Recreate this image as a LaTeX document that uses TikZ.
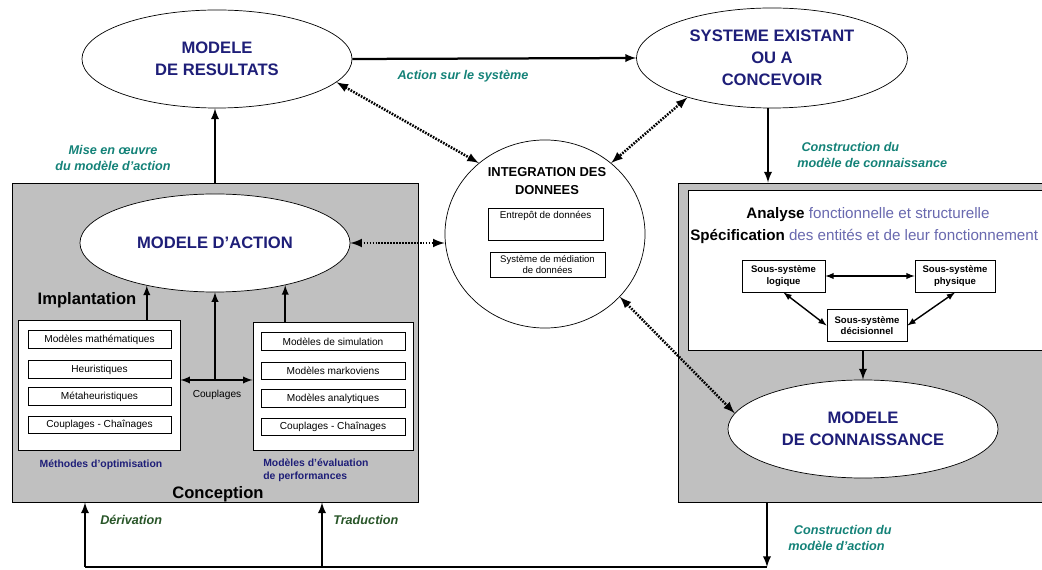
\documentclass[tikz,border=0pt]{standalone}
\usepackage{fontspec}
\setmainfont{Liberation Sans}
\usetikzlibrary{shapes,arrows}
\definecolor{navy}{RGB}{30,30,120}
\definecolor{tealtxt}{RGB}{20,130,120}
\definecolor{greentxt}{RGB}{40,85,40}
\definecolor{lavtxt}{RGB}{105,105,175}
\definecolor{boxgray}{RGB}{192,192,192}

\begin{document}
\begin{tikzpicture}[x=0.025cm, y=-0.025cm,
	model/.style={ellipse, draw=black, fill=white, line width=0.5pt, minimum width=6.75cm, minimum height=2.45cm, inner sep=0pt, align=center, text=navy, font=\fontsize{11.8}{15.8}\selectfont\bfseries},
	graybox/.style={rectangle, draw=black, fill=boxgray, line width=0.6pt, inner sep=0pt},
	whitebox/.style={rectangle, draw=black, fill=white, line width=0.6pt, inner sep=0pt},
	itembox/.style={rectangle, draw=black, fill=white, line width=0.6pt, inner sep=0pt, minimum height=0.43cm, font=\fontsize{7.2}{8}\selectfont},
	subbox/.style={rectangle, draw=black, fill=white, line width=0.6pt, inner sep=0pt, minimum height=0.8cm, align=center, font=\fontsize{6.8}{8}\selectfont\bfseries},
	flow/.style={-latex, line width=1.6pt},
	link/.style={latex-latex, line width=1pt},
	dataflow/.style={latex-latex, line width=1.8pt, dash pattern=on 1.2pt off 0.9pt},
	flowlabel/.style={font=\fontsize{9}{11.4}\selectfont\bfseries\itshape, text=tealtxt, inner sep=0pt},
	navylabel/.style={font=\fontsize{7.4}{9.2}\selectfont\bfseries, text=navy, inner sep=0pt},
	]
	\useasboundingbox (0,0) rectangle (1042,570);

	%gray boxes
	\node[graybox, minimum width=10.15cm, minimum height=7.975cm] (conc) at (215,342.5) {};
	\node[graybox, minimum width=9.2cm, minimum height=7.975cm] (connbox) at (862,342.5) {};
	\node[whitebox, minimum width=8.95cm, minimum height=4cm] (spec) at (867,270) {};

	%ellipses
	\node[model] (res) at (217,59) {MODELE\\DE RESULTATS};
	\node[model, minimum width=6.775cm, minimum height=2.5cm] (sys) at (772,58) {SYSTEME EXISTANT\\OU A\\CONCEVOIR};
	\node[model] (act) at (215,243) {MODELE D'ACTION};
	\node[model] (con) at (863,429) {MODELE\\DE CONNAISSANCE};

	%data integration
	\node[ellipse, draw=black, fill=white, line width=0.5pt, minimum width=5cm, minimum height=4.7cm, inner sep=0pt] (integ) at (545,234) {};
	\node[font=\fontsize{9.2}{12.8}\selectfont\bfseries, align=center] (integtitle) at (547,181) {INTEGRATION DES\\DONNEES};
	\node[whitebox, minimum width=2.875cm, minimum height=0.8cm] (entrepot) at (545.5,224) {};
	\node[font=\fontsize{7}{8}\selectfont, inner sep=0pt] (entrepottxt) at (545.5,216) {Entrepôt de données};
	\node[whitebox, minimum width=2.875cm, minimum height=0.625cm, align=center, font=\fontsize{6.8}{7.6}\selectfont] (mediation) at (547.5,264.5) {Système de médiation\\de données};

	%left white box
	\node[whitebox, minimum width=4.05cm, minimum height=3.25cm] (optim) at (99,385) {};
	\node[itembox, minimum width=3.575cm] (maths) at (99.5,339.5) {Modèles mathématiques};
	\node[itembox, minimum width=3.575cm] (heur) at (99.5,369.5) {Heuristiques};
	\node[itembox, minimum width=3.575cm] (meta) at (99.5,396.5) {Métaheuristiques};
	\node[itembox, minimum width=3.575cm] (coupl) at (99.5,425) {Couplages - Chaînages};

	%right white box
	\node[whitebox, minimum width=4cm, minimum height=3.2cm] (perf) at (333,386) {};
	\node[itembox, minimum width=3.6cm] (simu) at (333,341.5) {Modèles de simulation};
	\node[itembox, minimum width=3.6cm] (marko) at (333,371) {Modèles markoviens};
	\node[itembox, minimum width=3.6cm] (analy) at (333,398.5) {Modèles analytiques};
	\node[itembox, minimum width=3.6cm] (chain) at (333,427) {Couplages - Chaînages};

	%sub-systems
	\node[subbox, minimum width=2.075cm] (logique) at (783.5,276) {Sous-système\\logique};
	\node[subbox, minimum width=2cm] (physique) at (955,276) {Sous-système\\physique};
	\node[subbox, minimum width=2cm, minimum height=0.78cm] (decision) at (867,325.5) {Sous-système\\décisionnel};

	%texts
	\node[anchor=base, font=\fontsize{10.8}{12}\selectfont, inner sep=0pt] (analyse) at (868,219) {\textbf{Analyse} \textcolor{lavtxt}{fonctionnelle et structurelle}};
	\node[anchor=base west, font=\fontsize{10.8}{12}\selectfont, inner sep=0pt] (specif) at (690,241) {\textbf{Spécification} \textcolor{lavtxt}{des entités et de leur fonctionnement}};
	\node[font=\fontsize{11.8}{13}\selectfont\bfseries, inner sep=0pt] (implant) at (87,300) {Implantation};
	\node[font=\fontsize{11.8}{13}\selectfont\bfseries, inner sep=0pt] (concept) at (218,494) {Conception};
	\node[font=\fontsize{7.2}{8}\selectfont, inner sep=0pt] (coupltxt) at (217,395) {Couplages};
	\node[navylabel] (methodes) at (101,465) {Méthodes d'optimisation};
	\node[navylabel, anchor=north west, align=left] (evaluation) at (263,459) {Modèles d'évaluation\\de performances};

	%flow labels
	\node[flowlabel] (actlabel) at (463,76) {Action sur le système};
	\node[flowlabel, align=center] (miselabel) at (113,158) {Mise en œuvre\\du modèle d'action};
	\node[flowlabel, anchor=west, align=left] (connlabel) at (797,155) {\hspace{3pt}Construction du\\modèle de connaissance};
	\node[flowlabel, anchor=west, align=left] (actionlabel) at (788,538) {\hspace{4pt}Construction du\\modèle d'action};
	\node[flowlabel, text=greentxt, anchor=west] (derivlabel) at (100,520) {Dérivation};
	\node[flowlabel, text=greentxt, anchor=west] (tradlabel) at (333,520) {Traduction};

	%main arrows
	\draw[flow] (res.east) -- (sys.west);
	\draw[flow] (conc.north) -- (conc.north |- res.south);
	\draw[flow] (sys.south -| 768,0) -- (connbox.north -| 768,0);
	\draw[flow] (spec.south -| con.north) -- (con.north);
	\coordinate (bot) at (767,567);
	\coordinate (botl) at (85,567);
	\coordinate (botm) at (322,567);
	\draw[flow] (connbox.south -| bot) -- (bot);
	\draw[line width=2pt] (botl) -- (bot);
	\draw[flow] (botl) -- (botl |- conc.south);
	\draw[flow] (botm) -- (botm |- conc.south);

	%inside conception
	\coordinate (cpl) at (215,380);
	\draw[flow, line width=1.3pt] (cpl) -- (act.south);
	\draw[flow, line width=1.3pt] (optim.north -| act.212) -- (act.212);
	\draw[flow, line width=1.3pt] (perf.north -| act.329) -- (act.329);
	\draw[link, line width=1.3pt] (cpl -| optim.east) -- (cpl -| perf.west);

	%sub-system links
	\draw[link] (logique.east) -- (physique.west);
	\draw[link] (logique.south) -- (decision.west);
	\draw[link] (physique.south) -- (decision.east);

	%data links
	\draw[dataflow] (res.-11) -- (integ.133);
	\draw[dataflow] (sys.205) -- (integ.47);
	\draw[dataflow] (act.east) -- (act.east -| integ.west);
	\draw[dataflow] (integ.-40) -- (con.173);

\end{tikzpicture}
\end{document}
